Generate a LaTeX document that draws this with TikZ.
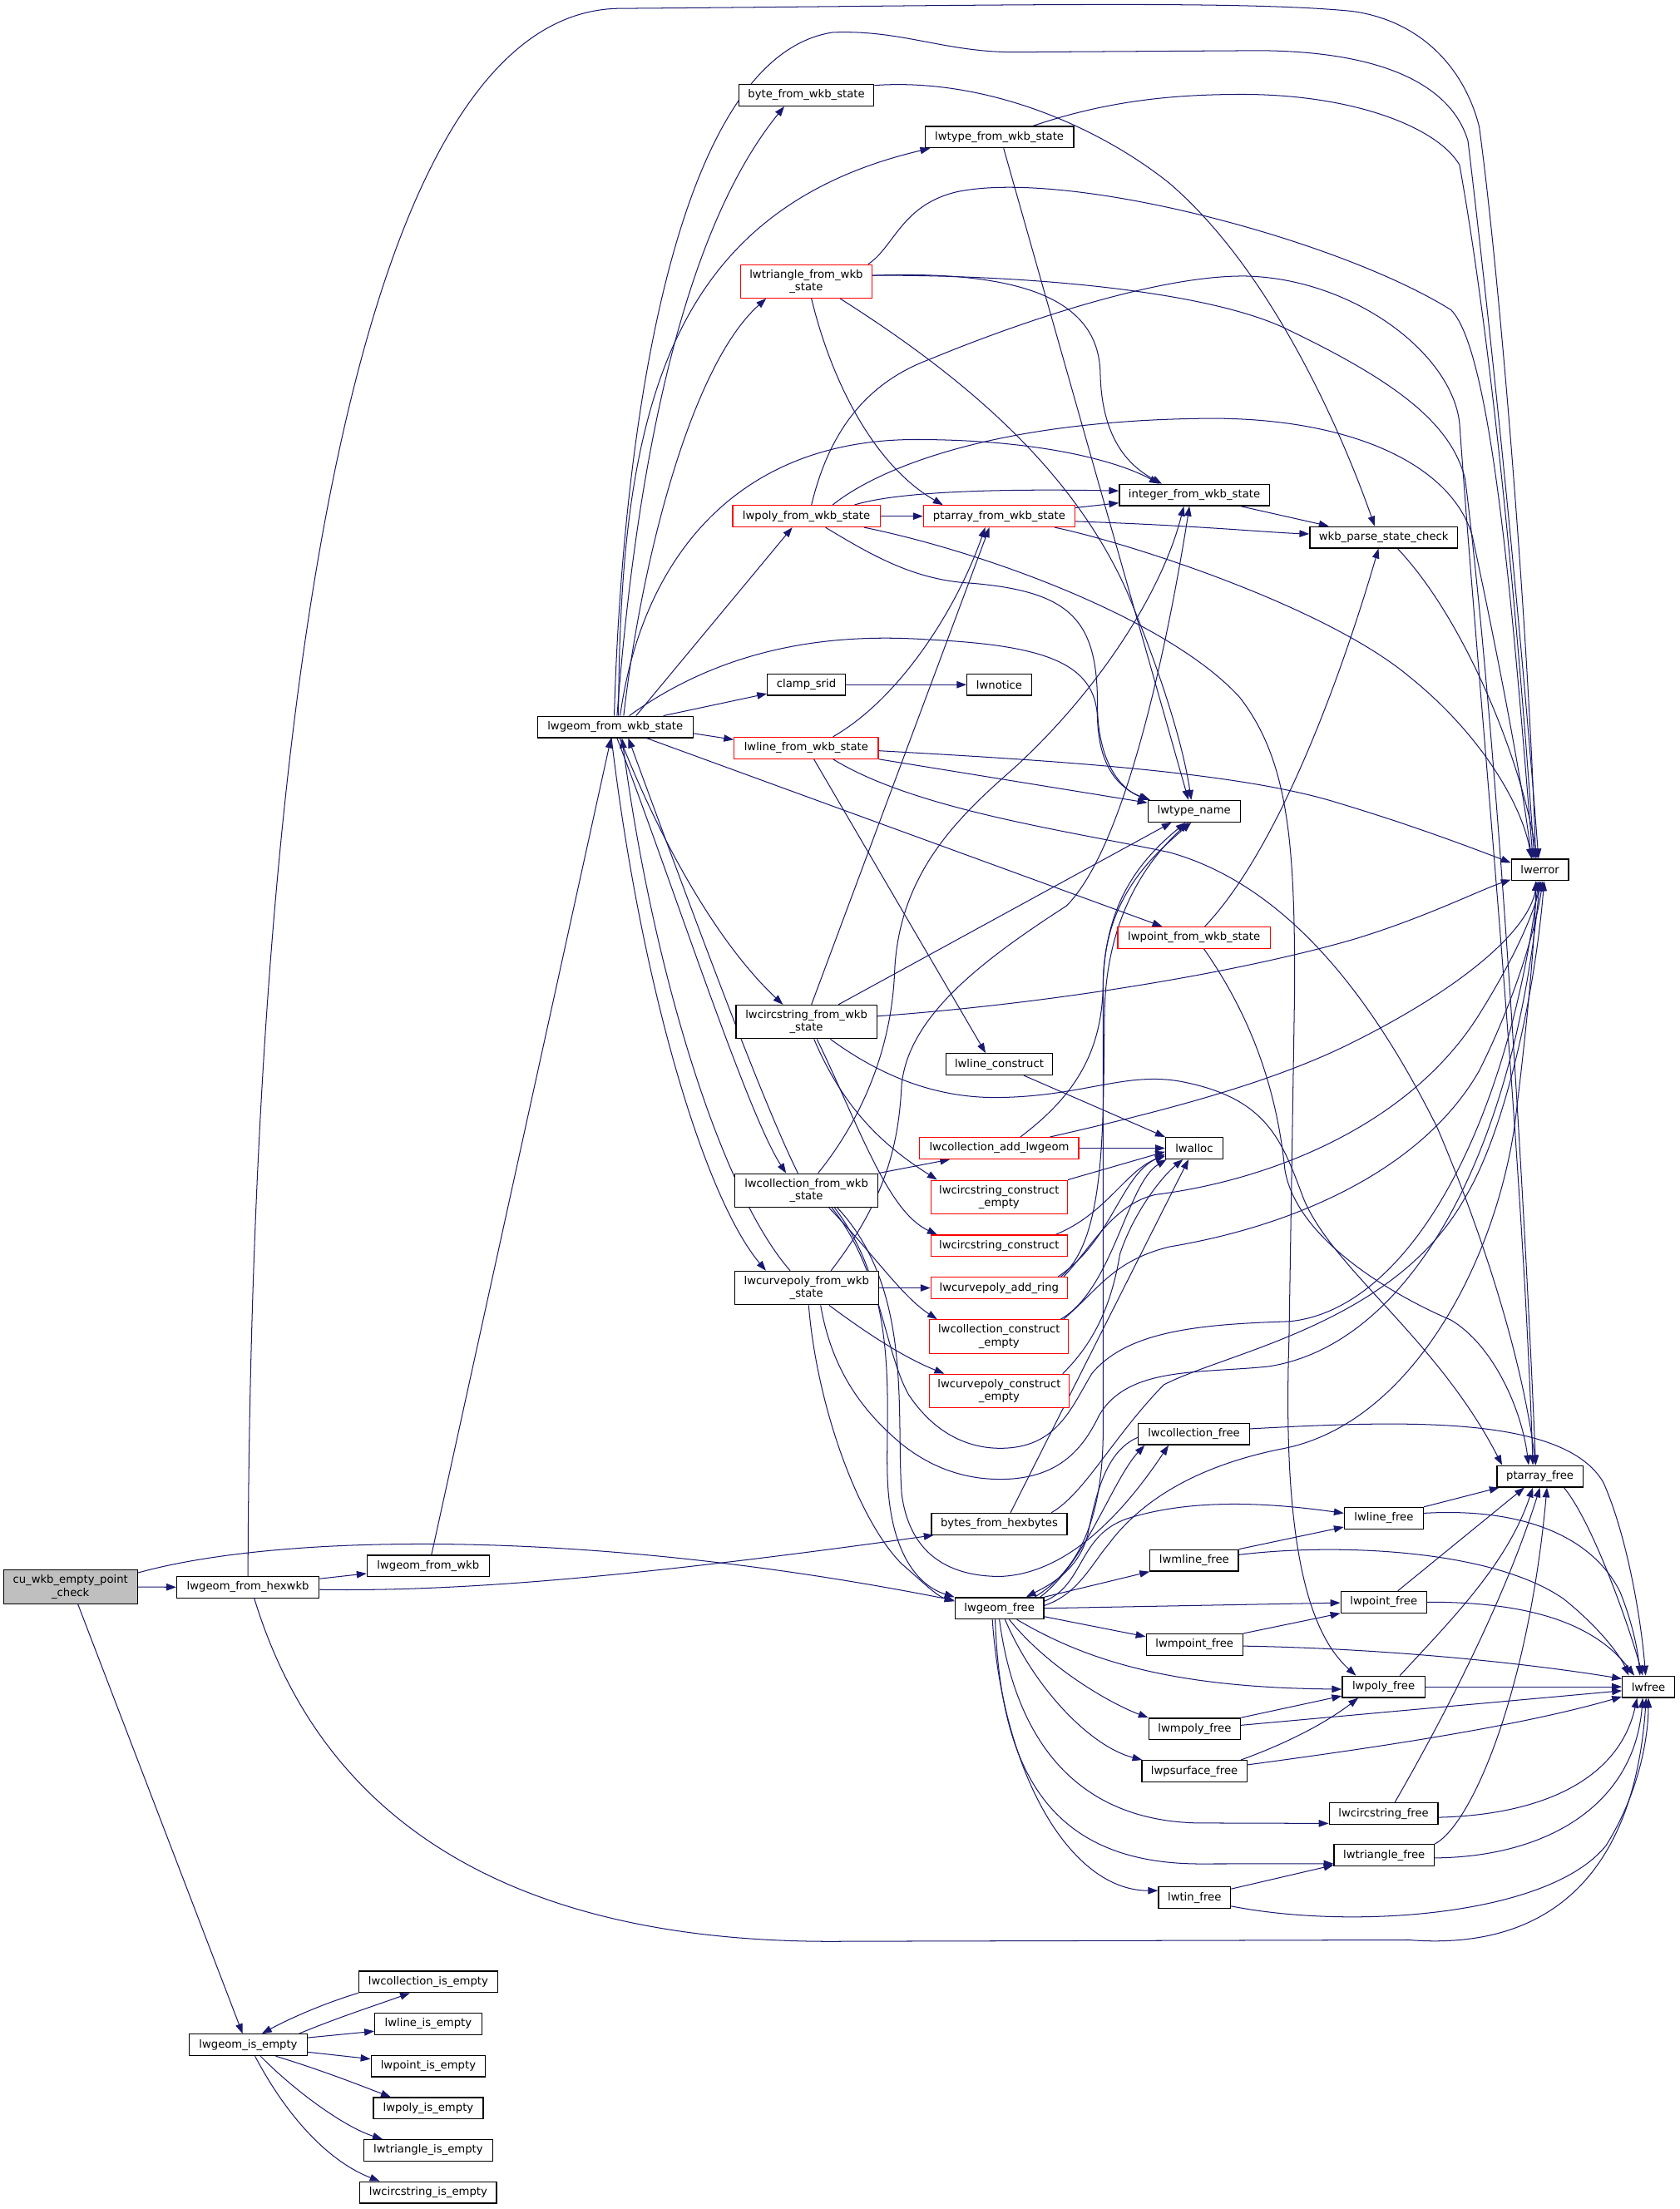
\documentclass[tikz,border=0pt]{standalone}
\usepackage{fontspec}
\setmainfont{DejaVu Sans}
\usetikzlibrary{arrows.meta,calc}
\definecolor{edgec}{HTML}{191970}
\definecolor{nodegray}{HTML}{BFBFBF}
\pgfdeclarelayer{bg}
\pgfsetlayers{bg,main}
\tikzset{
  nb/.style={draw=black, line width=0.75pt, fill=white, inner sep=0pt, align=center, minimum height=15.2pt, font=\fontsize{7.8}{8.9}\selectfont},
  nb2/.style={nb, minimum height=23.8pt},
  nr/.style={nb, draw=red},
  nr2/.style={nb2, draw=red},
  e/.style={draw=edgec, line width=0.6pt, -{Triangle[length=7pt,width=5pt]}},
}
\begin{document}
\begin{tikzpicture}[x=1pt,y=-1pt]
\useasboundingbox (0,0) rectangle (1192.5,1568);
% nodes
\node[nb2, fill=nodegray, minimum width=95pt] (cu) at (50,1126.4) {cu\_wkb\_empty\_point\\\_check};
\node[nb, minimum width=101pt] (hex) at (176,1126.6) {lwgeom\_from\_hexwkb};
\node[nb, minimum width=86.7pt] (fwkb) at (303.9,1111.5) {lwgeom\_from\_wkb};
\node[nb, minimum width=83.6pt] (isem) at (176.2,1451.5) {lwgeom\_is\_empty};
\node[nb, minimum width=98.6pt] (cie) at (304,1406.7) {lwcollection\_is\_empty};
\node[nb, minimum width=76pt] (lie) at (304,1436.5) {lwline\_is\_empty};
\node[nb, minimum width=81.2pt] (pie) at (304,1466.5) {lwpoint\_is\_empty};
\node[nb, minimum width=78pt] (pyie) at (304,1496.5) {lwpoly\_is\_empty};
\node[nb, minimum width=91.4pt] (tie) at (304,1526.3) {lwtriangle\_is\_empty};
\node[nb, minimum width=97pt] (csie) at (304,1556.2) {lwcircstring\_is\_empty};
\node[nb, minimum width=110.4pt] (st) at (436.7,516) {lwgeom\_from\_wkb\_state};
\node[nb, minimum width=95.9pt] (byte) at (572.4,67.6) {byte\_from\_wkb\_state};
\node[nb, minimum width=105.6pt] (ltf) at (709.4,97.3) {lwtype\_from\_wkb\_state};
\node[nr2, minimum width=93.5pt, minimum height=23.7pt] (tri) at (572.3,199.7) {lwtriangle\_from\_wkb\\\_state};
\node[nr, minimum width=104.7pt] (poly) at (572.4,366.4) {lwpoly\_from\_wkb\_state};
\node[nr, minimum width=107.5pt] (paf) at (709.3,366.4) {ptarray\_from\_wkb\_state};
\node[nb, minimum width=106.5pt] (intf) at (847.8,351.4) {integer\_from\_wkb\_state};
\node[nb, minimum width=104.9pt] (wps) at (982.2,381.4) {wkb\_parse\_state\_check};
\node[nb, minimum width=55.2pt] (clamp) at (572.4,486) {clamp\_srid};
\node[nb, minimum width=45.7pt] (notice) at (709.3,486) {lwnotice};
\node[nr, minimum width=102.3pt] (linef) at (572.3,530.9) {lwline\_from\_wkb\_state};
\node[nb, minimum width=65.6pt] (tname) at (847.6,575.8) {lwtype\_name};
\node[nb, minimum width=40.6pt] (err) at (1093.1,617.4) {lwerror};
\node[nr, minimum width=108.4pt] (ptf) at (847.6,665.6) {lwpoint\_from\_wkb\_state};
\node[nb2, minimum width=100pt] (circf) at (572.4,725.3) {lwcircstring\_from\_wkb\\\_state};
\node[nb, minimum width=75.5pt] (lcons) at (709.3,755.4) {lwline\_construct};
\node[nr, minimum width=112.9pt] (cadd) at (709.3,815) {lwcollection\_add\_lwgeom};
\node[nb, minimum width=40.6pt] (alloc) at (847.7,815) {lwalloc};
\node[nb2, minimum width=101.7pt] (collf) at (572.4,845) {lwcollection\_from\_wkb\\\_state};
\node[nr2, minimum width=96.9pt] (csce) at (709.2,849.7) {lwcircstring\_construct\\\_empty};
\node[nr, minimum width=96.9pt] (csc) at (709.2,884.3) {lwcircstring\_construct};
\node[nb2, minimum width=102.2pt] (cpf) at (572.5,914.2) {lwcurvepoly\_from\_wkb\\\_state};
\node[nr, minimum width=96.9pt] (cpar) at (709.2,914.2) {lwcurvepoly\_add\_ring};
\node[nr2, minimum width=98.6pt] (cce) at (709.2,948.7) {lwcollection\_construct\\\_empty};
\node[nr2, minimum width=99.3pt] (cpce) at (709.3,987.3) {lwcurvepoly\_construct\\\_empty};
\node[nb, minimum width=79pt] (cfree) at (847.5,1017.9) {lwcollection\_free};
\node[nb, minimum width=61pt] (paff) at (1093.1,1047.9) {ptarray\_free};
\node[nb, minimum width=56.1pt] (lfree) at (982.3,1077.6) {lwline\_free};
\node[nb, minimum width=96.3pt] (bfh) at (709.3,1081.7) {bytes\_from\_hexbytes};
\node[nb, minimum width=62.7pt] (mlfree) at (847.7,1107.6) {lwmline\_free};
\node[nb, minimum width=63pt] (gfree) at (709.4,1141.6) {lwgeom\_free};
\node[nb, minimum width=60.9pt] (pfree) at (982.2,1137.2) {lwpoint\_free};
\node[nb, minimum width=68.6pt] (mpfree) at (847.9,1167.4) {lwmpoint\_free};
\node[nb, minimum width=58.6pt] (pyfree) at (982.1,1197.3) {lwpoly\_free};
\node[nb, minimum width=37pt] (free) at (1170.1,1197.3) {lwfree};
\node[nb, minimum width=65.1pt] (mpyfree) at (848,1227.2) {lwmpoly\_free};
\node[nb, minimum width=74.5pt] (psfree) at (847.8,1257.2) {lwpsurface\_free};
\node[nb, minimum width=77.2pt] (csfree) at (982.1,1287.3) {lwcircstring\_free};
\node[nb, minimum width=71pt] (trfree) at (982.5,1316.9) {lwtriangle\_free};
\node[nb, minimum width=51.2pt] (tinfree) at (847.9,1347) {lwtin\_free};

\begin{pgfonlayer}{bg}
\fill[white] (0,0) rectangle (1192.5,1568);
% cu
\draw[e] (cu.east) -- (hex.west);
\draw[e] ($(cu.east)+(0,-10)$) .. controls (200,1088) and (420,1085) .. ($(gfree.west)+(0,-5.6)$);
\draw[e] ($(cu.south)+(5.3,0)$) -- ($(isem.north)+(-4,0)$);
% hexwkb
\draw[e] ($(hex.east)+(0,-6)$) -- ($(fwkb.west)+(0,5.4)$);
\draw[e] ($(hex.east)+(0,1.7)$) .. controls (330,1130) and (460,1118) .. ($(bfh.south west)+(2,0)$);
\draw[e] (hex.north) .. controls (178,560) and (240,8) .. (440,6) .. controls (700,4) and (880,0) .. (960,8) .. controls (1010,15) and (1040,50) .. (1050,90) .. controls (1065,200) and (1085,450) .. ($(err.north)+(-3,0)$);
\draw[e] ($(hex.south)+(4.5,0)$) .. controls (240,1330) and (420,1380) .. (600,1378) -- (1000,1377) .. controls (1100,1385) and (1160,1330) .. ($(free.south)+(-1.6,0)$);
% from_wkb
\draw[e] ($(fwkb.north)+(2.4,0)$) -- ($(st.south)+(-3,0)$);
% from_wkb_state
\draw[e] ($(st.north)+(1.3,0)$) .. controls (450,350) and (480,170) .. ($(byte.south)+(-15.7,0)$);
\draw[e] ($(st.north)+(2.3,0)$) .. controls (440,300) and (470,150) .. ($(ltf.south west)+(4,0)$);
\draw[e] ($(st.north)+(-0.7,0)$) .. controls (442,300) and (480,40) .. (591,23) .. controls (640,21) and (670,37) .. (720,37) -- (880,36) .. controls (980,34) and (1030,60) .. (1042,100) .. controls (1060,250) and (1080,450) .. ($(err.north)+(-1,0)$);
\draw[e] ($(st.north)+(6,0)$) .. controls (455,400) and (490,260) .. ($(tri.south)+(-28.5,0)$);
\draw[e] ($(st.north)+(14.8,0)$) -- ($(poly.south)+(-10,0)$);
\draw[e] ($(st.north)+(3.5,0)$) .. controls (455,400) and (520,312) .. (650,312) .. controls (740,312) and (795,328) .. ($(intf.north)+(-25,0)$);
\draw[e] ($(st.north)+(10,0)$) .. controls (520,455) and (600,450) .. (659,454) .. controls (740,458) and (778,470) .. (779,510) .. controls (780,545) and (795,560) .. ($(tname.north west)+(2,0)$);
\draw[e] ($(st.north)+(34.2,0)$) -- ($(clamp.south west)+(0,-1.6)$);
\draw[e] ($(st.east)+(0,4.6)$) -- ($(linef.west)+(0,-5.9)$);
\draw[e] ($(st.south)+(22.3,0)$) -- ($(ptf.north)+(-22.6,0)$);
\draw[e] ($(st.south)+(3.3,0)$) .. controls (470,600) and (510,670) .. ($(circf.north)+(-16.7,0)$);
\draw[e] ($(st.south)+(1.3,0)$) .. controls (475,620) and (530,790) .. ($(collf.north)+(-14.4,0)$);
\draw[e] ($(collf.north)+(-6,0)$) .. controls (540,780) and (485,630) .. ($(st.south)+(9.3,0)$);
\draw[e] ($(st.south)+(-2.7,0)$) .. controls (455,700) and (500,850) .. ($(cpf.north)+(-28.8,0)$);
\draw[e] ($(cpf.north)+(-11.6,0)$) .. controls (515,850) and (465,700) .. ($(st.south)+(4.8,0)$);
% byte / lwtype_from
\draw[e] ($(byte.east)+(0,-7)$) .. controls (700,55) and (780,90) .. (830,130) .. controls (900,190) and (950,300) .. ($(wps.north)+(-6.4,0)$);
\draw[e] ($(ltf.north)+(24,0)$) .. controls (790,70) and (840,67) .. (882,67) .. controls (960,67) and (1020,90) .. (1036,117) .. controls (1060,250) and (1078,450) .. ($(err.north)+(-4,0)$);
\draw[e] ($(ltf.south)+(3,0)$) -- ($(tname.north)+(-4,0)$);
% triangle
\draw[e] ($(tri.north)+(44,0)$) .. controls (635,175) and (640,145) .. (680,136) .. controls (760,120) and (950,170) .. (1030,220) .. controls (1060,250) and (1075,450) .. ($(err.north)+(-5,0)$);
\draw[e] ($(tri.east)+(0,-4.2)$) .. controls (720,192) and (780,210) .. (781,265) .. controls (782,310) and (800,330) .. ($(intf.north)+(-23,0)$);
\draw[e] ($(tri.east)+(0,-4.2)$) .. controls (720,195) and (850,205) .. (910,232) .. controls (990,270) and (1030,300) .. (1040,340) .. controls (1060,500) and (1080,800) .. ($(paff.north)+(-3,0)$);
\draw[e] ($(tri.south)+(3.7,0)$) .. controls (590,270) and (620,330) .. ($(paf.north)+(-40,0)$);
\draw[e] ($(tri.south)+(24,0)$) .. controls (680,265) and (760,330) .. (800,420) .. controls (825,480) and (840,530) .. ($(tname.north)+(-2,0)$);
% poly
\draw[e] (poly.east) -- (paf.west);
\draw[e] ($(poly.north)+(34,0)$) .. controls (640,348) and (720,347) .. ($(intf.west)+(0,-3)$);
\draw[e] ($(poly.north)+(18.6,0)$) .. controls (620,335) and (700,298) .. (860,297) .. controls (960,297) and (1030,330) .. (1045,380) .. controls (1060,450) and (1080,550) .. ($(err.north)+(-6,0)$);
\draw[e] ($(poly.north)+(3.6,0)$) .. controls (590,300) and (620,270) .. (660,255) .. controls (740,222) and (830,195) .. (885,196) .. controls (960,198) and (1030,250) .. (1036,300) .. controls (1050,500) and (1080,800) .. ($(paff.north)+(-5,0)$);
\draw[e] ($(poly.south)+(13.6,0)$) .. controls (620,395) and (650,412) .. (690,414) .. controls (760,420) and (779,440) .. (779,500) .. controls (779,540) and (795,560) .. ($(tname.north west)+(1,0)$);
\draw[e] ($(poly.south)+(41,0)$) .. controls (700,392) and (830,440) .. (880,495) .. controls (915,540) and (919,600) .. (919,700) -- (915,950) .. controls (910,1100) and (930,1160) .. ($(pyfree.north)+(-19.6,0)$);
% ptarray_from
\draw[e] ($(paf.east)+(0,-6)$) -- ($(intf.west)+(0,5.6)$);
\draw[e] ($(paf.east)+(0,3.7)$) .. controls (850,373) and (900,378) .. ($(wps.west)+(0,-2.4)$);
\draw[e] ($(paf.south)+(39.4,0)$) .. controls (800,385) and (940,430) .. (1000,480) .. controls (1050,520) and (1080,570) .. ($(err.north)+(-6,0)$);
% integer / wkb_parse
\draw[e] ($(intf.south)+(33,0)$) -- ($(wps.north)+(-39,0)$);
\draw[e] ($(wps.south)+(9.8,0)$) .. controls (1040,440) and (1080,540) .. ($(err.north)+(-2,0)$);
% clamp
\draw[e] (clamp.east) -- (notice.west);
% line_from
\draw[e] ($(linef.north)+(19,0)$) .. controls (640,495) and (680,430) .. ($(paf.south)+(-10,0)$);
\draw[e] (linef.south east) -- ($(tname.west)+(0,-6)$);
\draw[e] ($(linef.east)+(0,2)$) .. controls (750,540) and (880,548) .. (950,570) .. controls (1000,585) and (1040,600) .. ($(err.west)+(0,-5)$);
\draw[e] ($(linef.south)+(5.4,0)$) -- ($(lcons.north)+(-9.7,0)$);
\draw[e] ($(linef.south)+(19,0)$) .. controls (650,575) and (760,590) .. (830,605) .. controls (920,630) and (980,720) .. (1020,800) .. controls (1050,870) and (1080,960) .. ($(paff.north)+(-3,0)$);
% circstring_from
\draw[e] ($(circf.north)+(3.6,0)$) -- ($(paf.south)+(-7,0)$);
\draw[e] ($(circf.north)+(22.8,0)$) -- ($(tname.south)+(-16,0)$);
\draw[e] ($(circf.east)+(0,-4)$) .. controls (750,712) and (880,690) .. (960,667) .. controls (1010,652) and (1050,632) .. ($(err.south west)+(0,-1)$);
\draw[e] ($(circf.south)+(17,0)$) .. controls (620,760) and (660,780) .. (710,779) .. controls (770,778) and (800,760) .. (840,768) .. controls (900,780) and (910,810) .. (925,850) .. controls (945,900) and (1020,950) .. ($(paff.north west)+(4,0)$);
\draw[e] ($(circf.south)+(5.4,0)$) .. controls (600,790) and (630,815) .. ($(csce.north)+(-44,0)$);
\draw[e] ($(circf.south)+(7.5,0)$) .. controls (610,800) and (630,860) .. ($(csc.north)+(-44,0)$);
% point_from
\draw[e] ($(ptf.north)+(7.6,0)$) .. controls (910,600) and (955,470) .. ($(wps.south)+(-3.7,0)$);
\draw[e] ($(ptf.south)+(7,0)$) .. controls (880,710) and (905,760) .. (912,830) .. controls (920,880) and (990,920) .. (1030,937) .. controls (1060,955) and (1080,1000) .. ($(paff.north)+(-8,0)$);
% line_construct, add_lwgeom
\draw[e] ($(lcons.south)+(17.4,0)$) -- (alloc.north west);
\draw[e] (cadd.east) -- (alloc.west);
\draw[e] ($(cadd.north)+(36,0)$) .. controls (820,790) and (900,770) .. (960,740) .. controls (1040,700) and (1085,660) .. ($(err.south)+(-2,0)$);
\draw[e] ($(cadd.north)+(15,0)$) .. controls (760,780) and (782,750) .. (783,700) .. controls (784,640) and (810,610) .. ($(tname.south)+(-6,0)$);
% collection_from
\draw[e] ($(collf.north)+(8.3,0)$) .. controls (615,790) and (633,740) .. (635,690) .. controls (638,620) and (680,580) .. (720,545) .. controls (780,490) and (825,420) .. ($(intf.south)+(-7.5,0)$);
\draw[e] (collf.north east) -- ($(cadd.south)+(-35,0)$);
\draw[e] ($(collf.south)+(16,0)$) .. controls (620,890) and (640,920) .. ($(cce.north)+(-44,0)$);
\draw[e] ($(collf.south)+(20,0)$) .. controls (640,920) and (628,1000) .. (630,1050) .. controls (632,1100) and (650,1125) .. (gfree.north west);
\draw[e] ($(collf.south)+(22,0)$) .. controls (648,915) and (636,1000) .. (640,1060) .. controls (645,1100) and (670,1119) .. (710,1119) .. controls (760,1117) and (800,1070) .. ($(cfree.south)+(-18,0)$);
\draw[e] ($(collf.south)+(18,0)$) .. controls (625,900) and (628,960) .. (645,990) .. controls (665,1020) and (690,1028) .. (710,1028) .. controls (750,1028) and (760,1000) .. (775,975) .. controls (800,945) and (850,940) .. (915,938) .. controls (1000,930) and (1070,800) .. ($(err.south)+(-1,0)$);
% curvepoly_from
\draw[e] ($(cpf.north)+(17.4,0)$) .. controls (630,850) and (638,810) .. (640,770) .. controls (645,720) and (700,680) .. (757,643) .. controls (800,600) and (830,450) .. ($(intf.south)+(-3.5,0)$);
\draw[e] (cpf.east) -- (cpar.west);
\draw[e] ($(cpf.south)+(16,0)$) .. controls (620,950) and (645,965) .. ($(cpce.north)+(-39,0)$);
\draw[e] ($(cpf.south)+(1.5,0)$) .. controls (580,1000) and (610,1080) .. (640,1110) .. controls (655,1123) and (665,1133) .. ($(gfree.west)+(0,-5)$);
\draw[e] ($(cpf.south)+(10,0)$) .. controls (590,970) and (610,1000) .. (640,1025) .. controls (665,1045) and (690,1050) .. (710,1050) .. controls (750,1050) and (768,1030) .. (780,1005) .. controls (800,970) and (850,975) .. (900,970) .. controls (1000,955) and (1075,820) .. (err.south);
% curvepoly_add_ring, construct_empty etc.
\draw[e] ($(cpar.north east)+(-7,0)$) .. controls (790,880) and (795,835) .. ($(alloc.west)+(0,4.3)$);
\draw[e] ($(cpar.north east)+(-5,0)$) .. controls (785,880) and (783,800) .. (784,720) .. controls (785,650) and (815,610) .. ($(tname.south)+(-4,0)$);
\draw[e] ($(cpar.north east)+(-3,0)$) .. controls (775,885) and (790,855) .. (820,848) .. controls (900,838) and (1000,800) .. (1050,720) .. controls (1075,680) and (1088,650) .. ($(err.south)+(1,0)$);
\draw[e] ($(cce.north east)+(-6,0)$) .. controls (790,915) and (800,840) .. ($(alloc.south west)+(1,0)$);
\draw[e] ($(cce.north east)+(-4,0)$) .. controls (780,915) and (790,895) .. (830,885) .. controls (920,870) and (1010,830) .. (1050,760) .. controls (1075,710) and (1090,660) .. ($(err.south)+(2,0)$);
\draw[e] (csce.north east) -- ($(alloc.west)+(0,2.5)$);
\draw[e] ($(csc.north)+(40,0)$) .. controls (785,862) and (800,830) .. ($(alloc.west)+(0,5.5)$);
\draw[e] ($(cpce.north)+(45,0)$) .. controls (780,950) and (790,920) .. (795,890) .. controls (805,860) and (825,835) .. ($(alloc.south)+(-8,0)$);
% bytes_from_hexbytes
\draw[e] ($(bfh.north)+(8,0)$) -- ($(alloc.south)+(-4,0)$);
\draw[e] ($(bfh.north)+(37,0)$) .. controls (770,1060) and (790,1020) .. (826,983) .. controls (870,960) and (990,940) .. (1040,850) .. controls (1070,800) and (1090,700) .. ($(err.south)+(3,0)$);
% lwgeom_free
\draw[e] ($(gfree.north east)+(-3,0)$) .. controls (770,1110) and (790,1050) .. ($(cfree.south)+(-35,0)$);
\draw[e] ($(cfree.west)+(0,2.4)$) .. controls (785,1030) and (778,1060) .. (772,1090) .. controls (765,1115) and (745,1125) .. ($(gfree.north)+(19,0)$);
\draw[e] ($(gfree.east)+(0,-5)$) .. controls (770,1125) and (765,1090) .. (800,1078) .. controls (850,1062) and (910,1068) .. ($(lfree.west)+(0,-3.5)$);
\draw[e] (gfree.north east) -- (mlfree.south west);
\draw[e] (gfree.east) -- ($(pfree.west)+(0,0.5)$);
\draw[e] ($(gfree.east)+(0,5.9)$) -- ($(mpfree.west)+(0,-5.7)$);
\draw[e] ($(gfree.south)+(12.4,0)$) .. controls (770,1178) and (830,1198) .. ($(pyfree.west)+(0,1.7)$);
\draw[e] ($(gfree.south)+(7,0)$) .. controls (745,1185) and (790,1210) .. (mpyfree.north west);
\draw[e] ($(gfree.south)+(4,0)$) .. controls (735,1200) and (775,1240) .. ($(psfree.north)+(-37,0)$);
\draw[e] (gfree.south) .. controls (720,1230) and (760,1292) .. (850,1294) -- ($(csfree.west)+(0,7)$);
\draw[e] ($(gfree.south)+(-3,0)$) .. controls (710,1250) and (740,1322) .. (850,1323) -- ($(trfree.west)+(0,6)$);
\draw[e] ($(gfree.south)+(-5,0)$) .. controls (712,1260) and (760,1342) .. ($(tinfree.west)+(0,-5)$);
\draw[e] ($(gfree.east)+(0,-2)$) .. controls (765,1132) and (775,1110) .. (787,1096) .. controls (810,1065) and (850,1040) .. (912,1028) .. controls (1000,1010) and (1060,900) .. (1075,800) .. controls (1085,720) and (1090,660) .. ($(err.south)+(-3,0)$);
\draw[e] ($(gfree.north)+(25,0)$) .. controls (765,1115) and (782,1080) .. (783,1020) -- (783,700) .. controls (783,640) and (815,610) .. ($(tname.south)+(-2,0)$);
% free functions
\draw[e] ($(cfree.east)+(0,-3.7)$) .. controls (1000,1008) and (1110,1005) .. (1138,1052) .. controls (1155,1090) and (1165,1150) .. ($(free.north)+(-2,0)$);
\draw[e] ($(paff.south)+(17,0)$) .. controls (1130,1080) and (1155,1150) .. ($(free.north)+(-4,0)$);
\draw[e] (lfree.north east) -- ($(paff.south west)+(2,0)$);
\draw[e] ($(lfree.east)+(0,-3.5)$) .. controls (1080,1070) and (1130,1090) .. (1150,1130) .. controls (1160,1155) and (1163,1175) .. ($(free.north)+(-6,0)$);
\draw[e] (mlfree.north east) -- ($(lfree.west)+(0,6.3)$);
\draw[e] ($(mlfree.east)+(0,-4)$) .. controls (950,1095) and (1060,1100) .. (1110,1135) .. controls (1135,1155) and (1150,1175) .. ($(free.north)+(-14,0)$);
\draw[e] ($(pfree.north)+(10,0)$) -- ($(paff.south)+(-11,0)$);
\draw[e] (pfree.east) .. controls (1080,1137) and (1130,1150) .. ($(free.north)+(-10,0)$);
\draw[e] (mpfree.north east) -- (pfree.south west);
\draw[e] ($(mpfree.east)+(0,1)$) .. controls (980,1170) and (1080,1180) .. ($(free.west)+(0,-5.7)$);
\draw[e] ($(pyfree.north)+(11.6,0)$) .. controls (1030,1150) and (1070,1110) .. ($(paff.south)+(-5,0)$);
\draw[e] (pyfree.east) -- (free.west);
\draw[e] (mpyfree.north east) -- ($(pyfree.west)+(0,6.5)$);
\draw[e] ($(mpyfree.east)+(0,-2.6)$) -- ($(free.west)+(0,2.8)$);
\draw[e] ($(psfree.north)+(33,0)$) .. controls (920,1235) and (945,1220) .. ($(pyfree.south)+(-18,0)$);
\draw[e] ($(psfree.east)+(0,-4.5)$) .. controls (980,1240) and (1080,1225) .. ($(free.west)+(0,7)$);
\draw[e] ($(csfree.north)+(8,0)$) .. controls (1030,1210) and (1070,1130) .. (paff.south);
\draw[e] ($(csfree.east)+(0,2.7)$) .. controls (1100,1288) and (1150,1260) .. ($(free.south)+(-8,0)$);
\draw[e] (trfree.north east) .. controls (1045,1295) and (1085,1200) .. ($(paff.south)+(5,0)$);
\draw[e] ($(trfree.east)+(0,1.9)$) .. controls (1100,1318) and (1160,1280) .. ($(free.south)+(-4,0)$);
\draw[e] ($(tinfree.east)+(0,-6.2)$) -- ($(trfree.south west)+(0,-1)$);
\draw[e] ($(tinfree.east)+(0,6)$) .. controls (960,1370) and (1100,1360) .. (1140,1310) .. controls (1165,1270) and (1170,1230) .. (free.south);
% is_empty
\draw[e] ($(isem.north)+(36,0)$) .. controls (240,1432) and (265,1424) .. ($(cie.south)+(-13,0)$);
\draw[e] (cie.south west) .. controls (230,1422) and (205,1433) .. ($(isem.north)+(9.7,0)$);
\draw[e] ($(isem.east)+(0,-5.1)$) -- ($(lie.west)+(0,5.3)$);
\draw[e] ($(isem.east)+(0,5.1)$) -- ($(pie.west)+(0,-5)$);
\draw[e] ($(isem.south)+(19.5,0)$) .. controls (230,1470) and (255,1480) .. ($(pyie.north)+(-26.6,0)$);
\draw[e] ($(isem.south)+(8.7,0)$) .. controls (210,1485) and (245,1510) .. ($(tie.north)+(-32.5,0)$);
\draw[e] ($(isem.south)+(4.8,0)$) .. controls (205,1505) and (235,1535) .. ($(csie.north)+(-34.5,0)$);
\end{pgfonlayer}
\end{tikzpicture}
\end{document}
